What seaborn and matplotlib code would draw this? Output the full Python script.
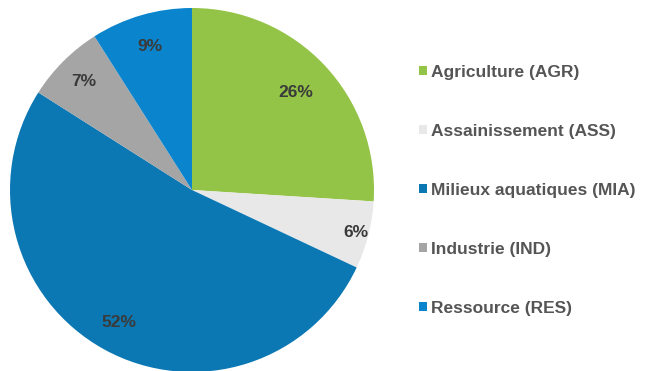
import numpy as np
import matplotlib
matplotlib.use("Agg")
import matplotlib.pyplot as plt
import seaborn as sns
from matplotlib.patches import Patch

categories = ["Agriculture (AGR)", "Assainissement (ASS)", "Milieux aquatiques (MIA)",
              "Industrie (IND)", "Ressource (RES)"]
values = [26, 6, 52, 7, 9]
colors = ["#94C447", "#E8E8E8", "#0B78B4", "#A5A5A5", "#0A84CC"]
label_dist = [0.78, 0.93, 0.83, 0.84, 0.82]

sns.set_theme(style="white")
plt.rcParams['font.family'] = ['Liberation Sans', 'DejaVu Sans']

fig = plt.figure(figsize=(6.45, 3.71), dpi=100)
ax = fig.add_axes([10/645, -1/371, 364/645, 364/371])
wedges, _ = ax.pie(values, colors=colors, startangle=90, counterclock=False,
                   wedgeprops=dict(linewidth=0))
ax.set_xlim(-1, 1)
ax.set_ylim(-1, 1)
ax.set_aspect("equal")
for w, v, d in zip(wedges, values, label_dist):
    ang = np.deg2rad((w.theta1 + w.theta2) / 2)
    ax.text(d * np.cos(ang), d * np.sin(ang), f"{v}%", ha="center", va="center",
            fontsize=12.5, fontweight="bold", color="#3A3A3A")

handles = [Patch(facecolor=c, edgecolor="none") for c in colors]
leg = fig.legend(handles, categories, loc="upper left", bbox_to_anchor=(419/645, 1 - 65/371),
                 frameon=False, fontsize=12.5, handlelength=0.45, handleheight=0.45,
                 handletextpad=0.25, labelspacing=2.53, borderpad=0, borderaxespad=0)
for t in leg.get_texts():
    t.set_color("#555555")
    t.set_fontweight("bold")

fig.savefig("out.png", dpi=100)
